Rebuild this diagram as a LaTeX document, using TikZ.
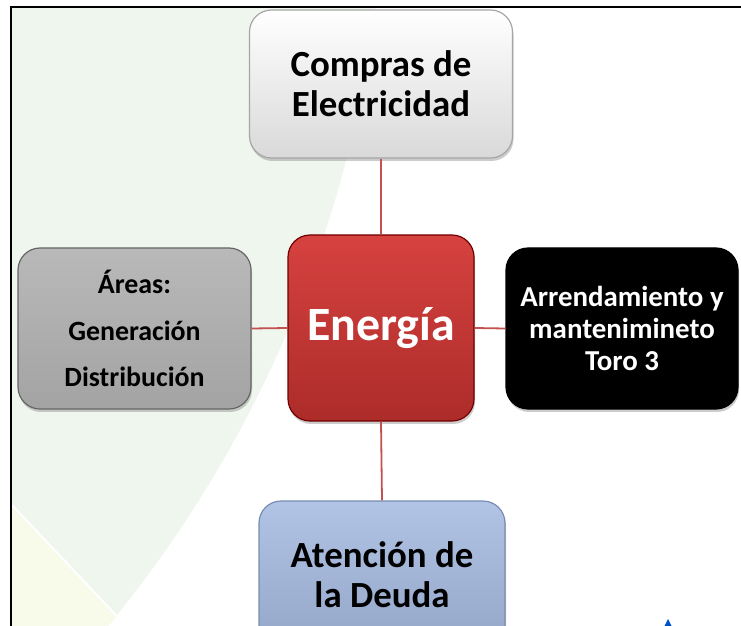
\documentclass[tikz,border=0pt]{standalone}
\usepackage{fontspec}
\setmainfont{Carlito}
\usetikzlibrary{shadows}
\definecolor{bggreen}{RGB}{238,246,237}
\definecolor{bgyellow}{RGB}{248,250,234}
\definecolor{linkred}{RGB}{196,80,80}
\tikzset{
  box/.style={rectangle, rounded corners=22bp, inner sep=0pt, align=center,
    font=\bfseries, line width=1.2pt,
    drop shadow={shadow xshift=1pt, shadow yshift=-3pt, opacity=0.4}},
  link/.style={draw=linkred, line width=1.8pt},
}
\begin{document}
\begin{tikzpicture}[x=1bp,y=-1bp]
\useasboundingbox (0,0) rectangle (741,626);
\clip (0,0) rectangle (741,626);
\fill[white] (-2,-2) rectangle (743,630);
% background
\begin{scope}
  \clip (12,8) rectangle (743,630);
  \fill[bggreen] (-829,-146) circle (1214bp);
  \clip (-829,-146) circle (1214bp);
  \fill[bgyellow] (12,505) -- (130,630) -- (12,630) -- cycle;
  \draw[white, line width=2pt] (12,505) -- (130,630);
\end{scope}
% frame
\draw[black, line width=2pt] (11,630) -- (11,7) -- (743,7);
% logo fragment
\fill[blue!60!cyan!80!black] (664,627) -- (668,619) -- (672,627) -- cycle;
% nodes
\node[box, draw=gray!70, top color=white, bottom color=gray!30,
  minimum width=263bp, minimum height=148bp,
  font=\bfseries\fontsize{37}{40}\selectfont] (top) at (381,84) {Compras de\\Electricidad};
\node[box, draw=red!45!black, top color={rgb,255:red,214;green,66;blue,63}, bottom color={rgb,255:red,172;green,44;blue,42},
  minimum width=186bp, minimum height=186bp, text=white,
  font=\bfseries\fontsize{48}{52}\selectfont] (center) at (381,328) {Energía};
\node[box, draw=gray!80!black, top color=gray!55, bottom color=gray!72,
  minimum width=233bp, minimum height=161bp,
  font=\bfseries\fontsize{28}{47}\selectfont] (left) at (134.5,328.5) {Áreas:\\Generación\\Distribución};
\node[box, draw=black, fill=black, text=white,
  minimum width=232bp, minimum height=161bp,
  font=\bfseries\fontsize{29}{32}\selectfont] (right) at (622,328.5) {Arrendamiento y\\mantenimineto\\Toro 3};
\node[box, draw={rgb,255:red,120;green,140;blue,180}, top color={rgb,255:red,178;green,196;blue,230}, bottom color={rgb,255:red,148;green,166;blue,200},
  minimum width=246bp, minimum height=148bp,
  font=\bfseries\fontsize{37}{40}\selectfont] (bottom) at (382,575) {Atención de\\la Deuda};
% connectors
\draw[link] (top.south) -- (center.north);
\draw[link] (center.south) -- (bottom.north);
\draw[link] (left.east) -- (center.west);
\draw[link] (center.east) -- (right.west);
\end{tikzpicture}
\end{document}
